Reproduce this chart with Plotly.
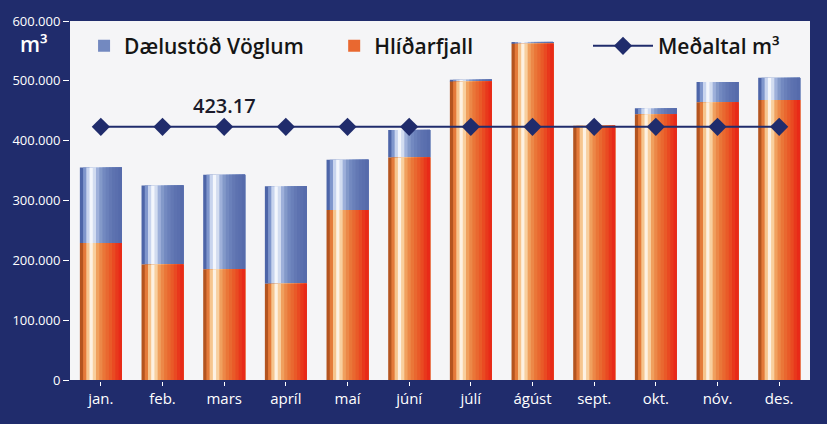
import plotly.graph_objects as go

# data (m3 per month)
manudir = ['jan.', 'feb.', 'mars', 'apríl', 'maí', 'júní', 'júlí', 'ágúst', 'sept.', 'okt.', 'nóv.', 'des.']
hlidarfjall = [229000, 193000, 185000, 161000, 284000, 372000, 499000, 562000, 425000, 444000, 464000, 468000]
vaglir = [126000, 132000, 158000, 163000, 84000, 46000, 3000, 3000, 0, 10000, 34000, 37000]
medaltal = [423170, 423170, 423170, 423170, 423170, 423170, 423170, 423170, 423170, 423170, 423170, 423170]

NAVY = '#202c6c'
FONT = 'Open Sans'

# colour stops across a bar (left -> right), to fake the shaded look
orange_stops = ['#b4541f', '#e47a3a', '#f6c58e', '#fdf1e2', '#f8cf9e', '#f0a05e', '#ec8848',
                '#ea7638', '#e96830', '#e95a28', '#e94a22', '#e8381c', '#e82a18']
blue_stops = ['#4d65a8', '#7f96cc', '#c8d4ee', '#f3f6fc', '#d2dcf0', '#9eb0da', '#8399c9',
              '#7389c0', '#6a80ba', '#6378b4', '#5d72b0', '#5a6fae', '#566bab']

BW = 0.68
n = len(orange_stops)
sw = BW / n

fig = go.Figure()

# each strip runs to the right edge, the next one covers it -> no seams
for i, c in enumerate(blue_stops):
    fig.add_trace(go.Bar(
        x=manudir, y=vaglir, base=hlidarfjall, width=BW - i * sw, offset=-BW / 2 + i * sw,
        marker=dict(color=c, line=dict(width=0)),
        name='Dælustöð Vöglum', legend='legend', showlegend=(i == 7),
        hoverinfo='skip',
    ))

for i, c in enumerate(orange_stops):
    fig.add_trace(go.Bar(
        x=manudir, y=hlidarfjall, width=BW - i * sw, offset=-BW / 2 + i * sw,
        marker=dict(color=c, line=dict(width=0)),
        name='Hlíðarfjall', legend='legend2', showlegend=(i == 8),
        hoverinfo='skip',
    ))

fig.add_trace(go.Scatter(
    x=manudir, y=medaltal, mode='lines+markers', name='Meðaltal m³', legend='legend3',
    line=dict(color=NAVY, width=2),
    marker=dict(symbol='diamond', size=14, color=NAVY),
))

fig.add_annotation(x='mars', y=458000, text='423.17', showarrow=False,
                   font=dict(family=FONT, size=20, color='#1a1a2a', weight=600))
fig.add_annotation(x=-0.07, y=0.98, xref='paper', yref='paper', text='m³', showarrow=False,
                   font=dict(family=FONT, size=21, color='white', weight=600))

leg = dict(orientation='h', y=0.93, xanchor='left', yanchor='middle',
           bgcolor='rgba(0,0,0,0)', font=dict(family=FONT, size=21, color='#151515', weight=600))

fig.update_layout(
    width=827, height=424,
    margin=dict(l=66, r=17, t=20, b=44),
    paper_bgcolor=NAVY, plot_bgcolor='#f5f5f7',
    barmode='overlay',
    separators=',.',
    font=dict(family=FONT, color='white'),
    showlegend=True,
    legend=dict(leg, x=0.019),
    legend2=dict(leg, x=0.357),
    legend3=dict(leg, x=0.70, itemwidth=60),
)
fig.update_xaxes(range=[-0.5, 11.5], showgrid=False, ticks='outside', tickcolor='white',
                 ticklen=4, tickfont=dict(size=15, color='white'), showline=True,
                 linecolor=NAVY, linewidth=2)
fig.update_yaxes(range=[0, 600000], dtick=100000, tickformat=',d', showgrid=False,
                 ticks='outside', tickcolor='white', ticklen=6,
                 tickfont=dict(size=13, color='white'), zeroline=False)

fig.write_html('out.html', config={'displayModeBar': False},
               post_script="document.body.style.margin='0';document.body.style.background='%s';" % NAVY)
